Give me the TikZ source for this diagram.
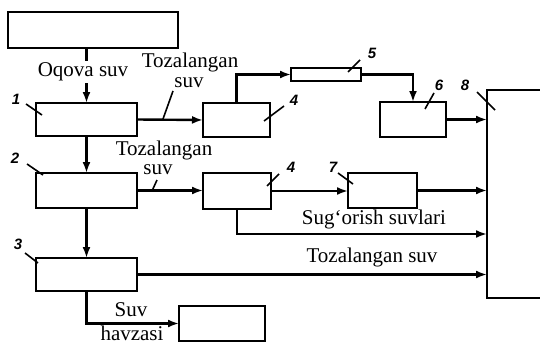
\documentclass[tikz,border=0pt]{standalone}
\usepackage{fontspec}
\setmainfont{Liberation Serif}
\newfontfamily\digf{Liberation Sans}
\usetikzlibrary{arrows.meta}
\tikzset{
  box/.style={draw, line width=2.2pt, inner sep=0pt, outer sep=0pt},
  conn/.style={line width=2.4pt},
  arr/.style={conn, -{Latex[length=11pt,width=8pt]}},
  lbl/.style={font=\fontsize{21}{24}\selectfont, inner sep=0pt},
  num/.style={font=\digf\bfseries\itshape\fontsize{15}{16}\selectfont, inner sep=0pt},
  lead/.style={line width=1.6pt}
}
\begin{document}
\begin{tikzpicture}[x=1pt,y=-1pt]
\useasboundingbox (0,0) rectangle (540,345);
\clip (0,0) rectangle (540,345);
% boxes
\node[box, minimum width=170pt, minimum height=36pt] (T) at (93,30) {};
\node[box, minimum width=101pt, minimum height=33pt] (b1) at (86.5,119.5) {};
\node[box, minimum width=101pt, minimum height=35pt] (b2) at (86.5,190.5) {};
\node[box, minimum width=101pt, minimum height=33pt] (b3) at (86.5,274.5) {};
\node[box, minimum width=67pt, minimum height=34pt] (b4a) at (236.5,120) {};
\node[box, minimum width=68pt, minimum height=36pt] (b4b) at (237,191) {};
\node[box, minimum width=70pt, minimum height=13pt] (b5) at (326,74.5) {};
\node[box, minimum width=66pt, minimum height=35pt] (b6) at (413,119.5) {};
\node[box, minimum width=69pt, minimum height=35pt] (b7) at (382.5,190.5) {};
\node[box, minimum width=113pt, minimum height=208pt] (b8) at (543.5,194) {};
\node[box, minimum width=86pt, minimum height=35pt] (B) at (222,323.5) {};
% connectors
\draw[arr] (T.south -| b1.north) -- (b1.north);
\draw[arr] (b1.south) -- (b2.north);
\draw[arr] (b2.south) -- (b3.north);
\draw[arr] (b1.east) -- (b4a.west);
\draw[arr] (b4a.north) |- (b5.west);
\draw[arr] (b5.east) -| (b6.north);
\draw[arr] (b6.east) -- (b6.east -| b8.west);
\draw[arr] (b2.east) -- (b2.east -| b4b.west);
\draw[arr] (b4b.east) -- (b4b.east -| b7.west);
\draw[arr] (b7.east) -- (b7.east -| b8.west);
\coordinate (s8) at (487,234);
\draw[arr] (b4b.south) |- (s8);
\draw[arr] (b3.east) -- (b3.east -| b8.west);
\draw[arr] (b3.south) |- (B.west);
% text labels
\node[lbl, fill=white, inner ysep=2pt] (t1) at (83,72) {Oqova suv};
\node[lbl] (t2) at (190,62) {Tozalangan};
\node[lbl] (t3) at (189,83) {suv};
\node[lbl] (t4) at (164,150) {Tozalangan};
\node[lbl] (t5) at (158,170) {suv};
\node[lbl] (t6) at (374,219) {Sug‘orish suvlari};
\node[lbl] (t7) at (372,257) {Tozalangan suv};
\node[lbl] (t8) at (131,310) {Suv};
\node[lbl] (t9) at (132,333) {havzasi};
% leader lines for text
\coordinate (l3a) at (173,91); \coordinate (l3b) at (163,119);
\draw[lead] (l3a) -- (l3b);
\coordinate (l5a) at (157,180); \coordinate (l5b) at (152,191);
\draw[lead] (l5a) -- (l5b);
% number labels
\node[num] (n1) at (16,99) {1};
\node[num] (n2) at (15,158) {2};
\node[num] (n3) at (18,244) {3};
\node[num] (n4a) at (294,100) {4};
\node[num] (n4b) at (291,167) {4};
\node[num] (n5) at (372,53) {5};
\node[num] (n6) at (439,85) {6};
\node[num] (n7) at (333,167) {7};
\node[num] (n8) at (465,85) {8};
\coordinate (m1a) at (26,104); \coordinate (m1b) at (42,115);
\coordinate (m2a) at (27,164); \coordinate (m2b) at (43,175);
\coordinate (m3a) at (25,253); \coordinate (m3b) at (38,263);
\coordinate (m4a) at (284,106); \coordinate (m4b) at (264,121);
\coordinate (m4c) at (279,174); \coordinate (m4d) at (267,186);
\coordinate (m5a) at (360,60); \coordinate (m5b) at (348,72);
\coordinate (m6a) at (434,93); \coordinate (m6b) at (425,109);
\coordinate (m7a) at (338,173); \coordinate (m7b) at (353,184);
\coordinate (m8a) at (477,92); \coordinate (m8b) at (495,110);
\draw[lead] (m1a) -- (m1b);
\draw[lead] (m2a) -- (m2b);
\draw[lead] (m3a) -- (m3b);
\draw[lead] (m4a) -- (m4b);
\draw[lead] (m4c) -- (m4d);
\draw[lead] (m5a) -- (m5b);
\draw[lead] (m6a) -- (m6b);
\draw[lead] (m7a) -- (m7b);
\draw[lead] (m8a) -- (m8b);
\end{tikzpicture}
\end{document}
